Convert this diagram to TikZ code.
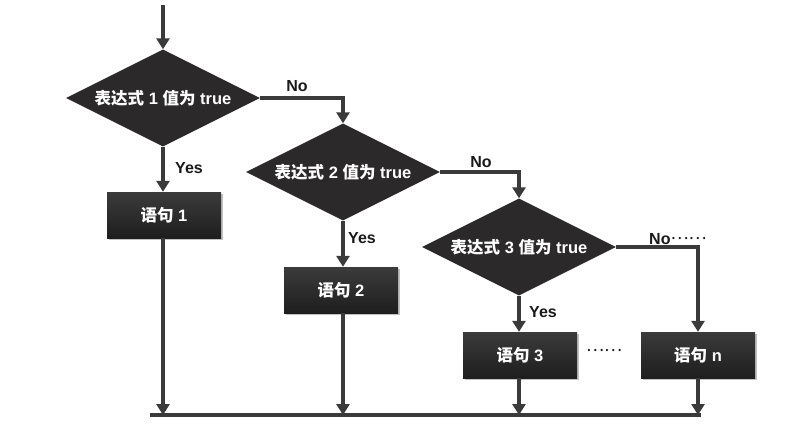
\documentclass[tikz,border=0pt]{standalone}
\usepackage{fontspec}
\setmainfont{Liberation Sans}
\newfontfamily\cjk{Noto Sans CJK SC}
\usetikzlibrary{shapes.geometric,arrows.meta,shadows}
\definecolor{dfill}{HTML}{2B292A}
\definecolor{lc}{HTML}{3A3A3A}
\definecolor{btop}{HTML}{3C3B3B}
\definecolor{bbot}{HTML}{1F1E1E}
\definecolor{ltxt}{HTML}{1A1A1A}
\newcommand{\zh}[1]{{\cjk\bfseries #1}}
\newcommand{\mydots}{\raisebox{4.5pt}{\cjk\mdseries\fontsize{17}{18}\selectfont ……}}
\begin{document}
\begin{tikzpicture}[x=1pt,y=-1pt,
  dec/.style={diamond, aspect=2, fill=dfill, minimum width=194pt, minimum height=97pt,
    inner sep=0pt, text=white, font=\bfseries\fontsize{16.5}{18}\selectfont},
  stmt/.style={rectangle, minimum width=114pt, minimum height=46pt, inner sep=0pt,
    top color=btop, bottom color=bbot, draw=none,
    drop shadow={shadow xshift=2pt, shadow yshift=-2pt, opacity=0.35, fill=black!70},
    text=white, font=\bfseries\fontsize{16.5}{18}\selectfont},
  conn/.style={line width=3.5pt, draw=lc, -{Triangle[length=11pt,width=13pt]}},
  plain/.style={line width=3.5pt, draw=lc},
  lbl/.style={font=\bfseries\fontsize{16}{18}\selectfont, text=ltxt, inner sep=1pt}]
\useasboundingbox (0,0) rectangle (786,429);

\coordinate (start) at (163,5);
\node[dec] (d1) at (163,98) {\zh{表达式} 1 \zh{值为} true};
\node[dec] (d2) at (343,172) {\zh{表达式} 2 \zh{值为} true};
\node[dec] (d3) at (519,247) {\zh{表达式} 3 \zh{值为} true};

\node[stmt] (b1) at (164,215) {\zh{语句} 1};
\node[stmt] (b2) at (341,290) {\zh{语句} 2};
\node[stmt] (b3) at (520,355) {\zh{语句} 3};
\node[stmt] (bn) at (698,355) {\zh{语句} n};

\coordinate (jl) at (150,415);
\coordinate (jr) at (701,415);

\draw[conn] (start) -- (d1.north);
\draw[conn] (d1.east) -| (d2.north);
\draw[conn] (d2.east) -| (d3.north);
\draw[conn] (d3.east) -| (bn.north);
\draw[conn] (d1.south) -- (b1.north -| d1.south);
\draw[conn] (d2.south) -- (b2.north -| d2.south);
\draw[conn] (d3.south) -- (b3.north -| d3.south);

\draw[plain] (jl) -- (jr);
\draw[conn] (b1.south -| d1.south) -- (jl -| d1.south);
\draw[conn] (b2.south -| d2.south) -- (jl -| d2.south);
\draw[conn] (b3.south -| d3.south) -- (jl -| d3.south);
\draw[conn] (bn.south) -- (jl -| bn.south);

\node[lbl] (n1) at (297,86) {No};
\node[lbl] (n2) at (481,162) {No};
\node[lbl, anchor=base west] (n3) at (648,244) {No\mydots};
\node[lbl] (y1) at (189,168) {Yes};
\node[lbl] (y2) at (362,238) {Yes};
\node[lbl] (y3) at (543,312) {Yes};
\node[lbl, anchor=base] (dots) at (604,356) {\mydots};
\end{tikzpicture}
\end{document}
